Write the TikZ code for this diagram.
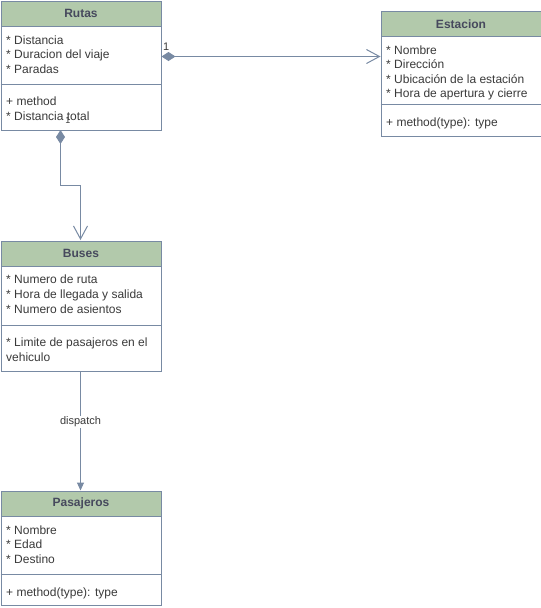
\documentclass[tikz,border=0pt]{standalone}
\usepackage{fontspec}
\setmainfont{Liberation Sans}
\usetikzlibrary{arrows.meta}
\definecolor{hdrfill}{HTML}{B2C9AB}
\definecolor{edge}{HTML}{788AA3}
\definecolor{hdrtext}{HTML}{46495D}
\definecolor{bodytext}{HTML}{3A3A3A}
\begin{document}
\begin{tikzpicture}[x=1pt,y=-1pt,
  box/.style={draw=edge, line width=1pt, fill=white, inner sep=0pt,
    minimum width=160pt, anchor=north west},
  hdr/.style={draw=edge, line width=1pt, fill=hdrfill, inner sep=0pt,
    minimum width=160pt, minimum height=25.5pt, anchor=north west,
    text=hdrtext, font=\fontsize{12}{14}\selectfont\bfseries},
  sep/.style={draw=edge, line width=1pt},
  attr/.style={anchor=base west, inner sep=0pt, text=bodytext,
    font=\fontsize{12}{14}\selectfont},
  conn/.style={draw=edge, line width=1pt},
  lbl/.style={inner sep=1pt, text=bodytext, font=\fontsize{11}{13}\selectfont},
  comp/.style={{Diamond[length=14pt,width=9pt,fill=edge]}-{Straight Barb[length=13pt,width=14pt,line width=1pt]}}
]
\useasboundingbox (0,0) rectangle (541,608);

% ---- Rutas ----
\node[box, minimum height=129.5pt] (rutas) at (0.5,0.5) {};
\node[hdr] (rutasH) at (0.5,0.5) {Rutas};
\draw[sep] (0.5,84.5) -- (160.5,84.5);
\node[attr] (r1) at (6,44) {* Distancia};
\node[attr] (r2) at (6,58.5) {* Duracion del viaje};
\node[attr] (r3) at (6,73.5) {* Paradas};
\node[attr] (r4) at (6,105) {+ method};
\node[attr] (r5) at (6,120) {* Distancia total};

% ---- Estacion ----
\node[box, minimum height=125pt] (est) at (380.5,10.5) {};
\node[hdr] (estH) at (380.5,10.5) {Estacion};
\draw[sep] (380.5,104.5) -- (540.5,104.5);
\node[attr] (e1) at (386,54) {* Nombre};
\node[attr] (e2) at (386,68.5) {* Dirección};
\node[attr] (e3) at (386,83) {* Ubicación de la estación};
\node[attr] (e4) at (386,97.5) {* Hora de apertura y cierre};
\node[attr] (e5) at (386,126) {+ method(type): type};

% ---- Buses ----
\node[box, minimum height=130pt] (buses) at (0.5,240.5) {};
\node[hdr] (busesH) at (0.5,240.5) {Buses};
\draw[sep] (0.5,325.5) -- (160.5,325.5);
\node[attr] (b1) at (6,283) {* Numero de ruta};
\node[attr] (b2) at (6,298) {* Hora de llegada y salida};
\node[attr] (b3) at (6,313) {* Numero de asientos};
\node[attr] (b4) at (6,346.5) {* Limite de pasajeros en el};
\node[attr] (b5) at (6,361) {vehiculo};

% ---- Pasajeros ----
\node[box, minimum height=114pt] (pas) at (0.5,490.5) {};
\node[hdr] (pasH) at (0.5,490.5) {Pasajeros};
\draw[sep] (0.5,574.5) -- (160.5,574.5);
\node[attr] (p1) at (6,534.5) {* Nombre};
\node[attr] (p2) at (6,548.5) {* Edad};
\node[attr] (p3) at (6,563) {* Destino};
\node[attr] (p4) at (6,596) {+ method(type): type};

% ---- Connectors ----
\coordinate (rE) at (rutas.east |- 0,56.5);
\coordinate (eW) at (est.west |- 0,56.5);
\draw[conn, comp] (rE) -- (eW);
\node[lbl, anchor=south west] (m1) at (162,52) {1};

\coordinate (rS) at (60.5,130);
\coordinate (bN) at (80.5,240);
\draw[conn, comp] (rS) -- (60.5,185.5) -- (80.5,185.5) -- (bN);
\node[lbl, anchor=center, font=\fontsize{9}{10}\selectfont] (m2) at (68,120) {1};

\draw[conn, -{Triangle[length=8pt,width=7pt]}] (buses.south -| 80.5,0) -- (pas.north -| 80.5,0)
  node[lbl, pos=0.425, fill=white, anchor=center] (disp) {dispatch};
\end{tikzpicture}
\end{document}
